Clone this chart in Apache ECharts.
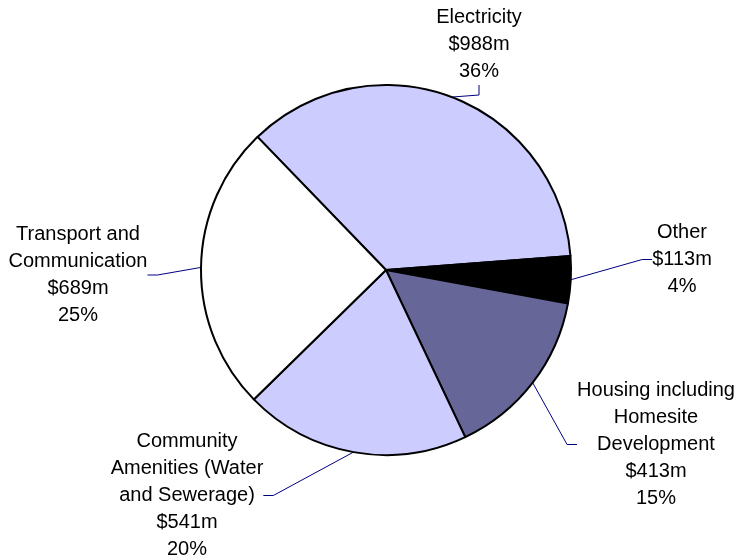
<!DOCTYPE html>
<html>
<head>
<meta charset="utf-8">
<script src="https://cdn.jsdelivr.net/npm/echarts@6/dist/echarts.min.js"></script>
<style>html,body{margin:0;padding:0;background:#fff;}#c{width:736px;height:560px;}</style>
</head>
<body>
<div id="c"></div>
<script>
const categories = ['Electricity', 'Other', 'Housing including\nHomesite\nDevelopment', 'Community\nAmenities (Water\nand Sewerage)', 'Transport and\nCommunication'];
const values = [988, 113, 413, 541, 689];
const sliceColors = ['#CCCCFF', '#000000', '#666699', '#CCCCFF', '#FFFFFF'];
// label anchor positions (center x, top y)
const labelPos = [[479, 4], [682, 219], [656, 377], [187, 428], [78, 221]];

const chart = echarts.init(document.getElementById('c'));
chart.setOption({
  animation: false,
  series: [{
    type: 'pie',
    center: [386, 270],
    radius: 185,
    startAngle: 134,
    clockwise: true,
    percentPrecision: 0,
    avoidLabelOverlap: false,
    data: categories.map((n, i) => ({ name: n, value: values[i], itemStyle: { color: sliceColors[i] } })),
    itemStyle: { borderColor: '#000', borderWidth: 2 },
    label: {
      show: true,
      position: 'outside',
      formatter: p => p.name + '\n$' + p.value + 'm\n' + p.percent + '%',
      fontFamily: 'Liberation Sans, Arial, sans-serif',
      fontSize: 20,
      lineHeight: 27,
      color: '#000',
      align: 'center'
    },
    labelLine: { show: true, lineStyle: { color: '#000080', width: 1 }, length: 10, length2: 10 },
    labelLayout: function (params) {
      const p = labelPos[params.dataIndex];
      return { x: p[0], y: p[1], align: 'center', verticalAlign: 'top' };
    },
    emphasis: { disabled: true }
  }]
});
</script>
</body>
</html>
